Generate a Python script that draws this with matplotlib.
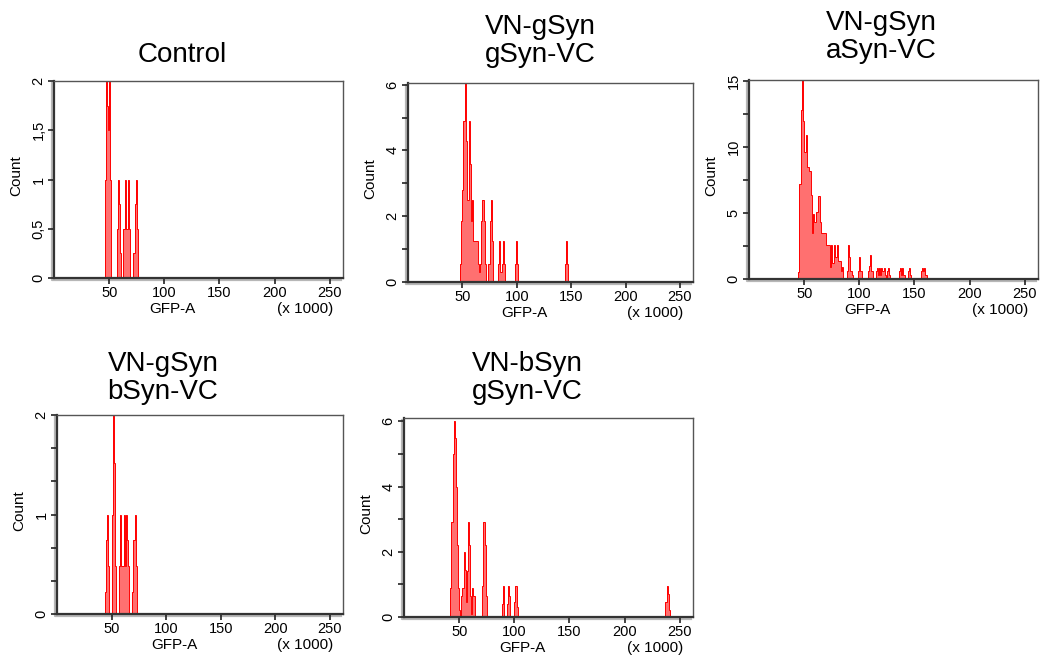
# -*- coding: utf-8 -*-

import numpy as np
import matplotlib
matplotlib.use('Agg')
import matplotlib.pyplot as plt
import matplotlib.transforms as mtransforms

# GFP-A 直方图数据 (x 1000), 每个 bin 宽 1
ctrl_x = [46, 47, 48, 49, 50, 51, 57, 58, 59, 60, 63, 64, 65, 66, 67, 68, 72, 73, 74, 75]
ctrl_n = [1.0, 2.0, 1.75, 1.5, 2.0, 1.0, 0.5, 1.0, 0.75, 0.25, 0.5, 1.0, 0.5, 0.5, 1.0, 0.5,
          0.25, 0.75, 1.0, 0.5]

gg_x = [48, 49, 50, 51, 52, 53, 54, 55, 56, 57, 58, 59, 60, 61, 62, 63, 64, 65, 66, 67, 68,
        69, 70, 71, 74, 75, 76, 77, 83, 84, 85, 86, 87, 88, 98, 99, 100, 144, 145, 146]
gg_n = [0.55, 1.85, 2.8, 4.9, 6.05, 4.3, 2.5, 2.5, 4.9, 3.6, 1.85, 2.5, 1.25, 1.25, 1.25, 1.25,
        0.55, 0.3, 0.55, 1.85, 2.5, 2.5, 1.85, 0.55, 0.55, 1.85, 2.5, 1.25, 0.55, 1.25, 0.3,
        0.55, 1.25, 0.55, 0.55, 1.25, 0.55, 0.55, 1.25, 0.55]

ga_x = [44, 45, 46, 47, 48, 49, 50, 51, 52, 53, 54, 55, 56, 57, 58, 59, 60, 61, 62, 63, 64,
        65, 66, 67, 68, 69, 70, 71, 72, 73, 74, 75, 76, 77, 78, 79, 80, 81, 82, 83, 84,
        89, 90, 91, 92, 93, 99, 100, 101, 108, 109, 110, 111,
        115, 116, 117, 118, 119, 120, 121, 122, 123, 125, 126, 127,
        136, 137, 138, 139, 140, 144, 145, 146, 156, 157, 158, 159, 160]
ga_n = [0.5, 7.2, 7.2, 12.8, 15.1, 12.0, 9.6, 9.6, 10.9, 8.5, 8.2, 8.2, 6.4, 3.5, 4.9, 4.3,
        4.3, 5.1, 5.1, 6.3, 4.3, 3.5, 3.5, 3.5, 3.5, 3.5, 2.6, 2.6, 2.6, 0.9, 2.6, 1.2, 1.2,
        2.6, 1.7, 1.7, 2.6, 1.4, 1.4, 0.6, 0.9,
        0.6, 2.6, 1.7, 0.6, 0.3, 0.6, 1.7, 0.6, 0.6, 1.0, 1.8, 0.6,
        0.6, 0.8, 0.3, 0.8, 0.3, 0.8, 0.6, 0.8, 0.3, 0.6, 0.8, 0.3,
        0.6, 0.8, 0.3, 0.8, 0.3, 0.6, 0.8, 0.3, 0.6, 0.8, 0.6, 0.8, 0.3]

gb_x = [44, 45, 46, 47, 50, 51, 52, 53, 57, 58, 59, 60, 61, 62, 63, 64, 65, 69, 70, 71, 72]
gb_n = [0.22, 0.74, 1.0, 0.48, 1.0, 2.0, 1.52, 0.48, 0.48, 1.0, 0.48, 0.48, 1.0, 0.48, 1.0,
        0.74, 0.48, 0.22, 0.74, 1.0, 0.48]

bg_x = [42, 43, 44, 45, 46, 47, 48, 49, 50, 52, 53, 54, 55, 56, 57, 58, 59, 60, 61, 62, 63,
        71, 72, 73, 74, 89, 90, 93, 94, 95, 100, 101, 102, 237, 238, 239, 240]
bg_n = [0.9, 2.9, 5.0, 6.0, 5.5, 4.0, 2.2, 0.9, 0.2, 0.65, 0.9, 2.0, 1.45, 0.45, 1.4, 2.9,
        2.2, 0.65, 0.1, 0.9, 0.65, 0.95, 2.9, 2.2, 0.65, 0.4, 0.95, 0.4, 0.95, 0.65, 0.45,
        0.95, 0.3, 0.45, 0.95, 0.7, 0.2]

x_ticks = [50, 100, 150, 200, 250]


def to_hist(xs, ns, n_bins=262):
    """
    把 (bin, count) 列表转成完整直方图
    """
    counts = np.zeros(n_bins)
    for x, n in zip(xs, ns):
        counts[x] = n
    return counts


def draw_panel(fig, rect, xs, ns, ymax, major, minor, labels):
    """
    画一个 FACS 风格的直方图
    :param rect: 轴位置 [left, bottom, width, height]
    :param major: 主刻度
    :param minor: 次刻度
    :param labels: 主刻度标签
    """
    ax = fig.add_axes(rect)
    counts = to_hist(xs, ns)
    edges = np.arange(len(counts) + 1)
    ax.stairs(counts, edges, fill=True, color='#ff7070', linewidth=0)
    ax.stairs(counts, edges, color='#ff0000', linewidth=0.7)

    ax.set_xlim(0, 262)
    ax.set_ylim(0, ymax)
    ax.set_xticks(x_ticks)
    ax.set_xticklabels([str(t) for t in x_ticks])
    ax.set_yticks(major)
    ax.set_yticklabels(labels, rotation=90, va='center')
    ax.set_yticks(minor, minor=True)
    ax.tick_params(axis='both', which='major', labelsize=10.5, length=4, width=1.2,
                   color='#222222', pad=2)
    ax.tick_params(axis='y', which='minor', length=4, width=1.2, color='#222222')

    for side in ['top', 'right']:
        ax.spines[side].set_linewidth(1.0)
        ax.spines[side].set_color('#555555')
    for side in ['bottom', 'left']:
        ax.spines[side].set_linewidth(1.6)
        ax.spines[side].set_color('#333333')

    # 阴影 (左边和下边)
    shift = mtransforms.offset_copy(ax.transAxes, fig=fig, x=-1.5, y=-1.5, units='points')
    ax.plot([0, 0, 1], [1, 0, 0], color='#999999', lw=1.6, alpha=0.7,
            transform=shift, clip_on=False, zorder=0)

    # 坐标轴文字
    ax.annotate('GFP-A', xy=(0.41, 0), xycoords='axes fraction', xytext=(0, -22),
                textcoords='offset points', ha='center', va='center', fontsize=11)
    ax.annotate('(x 1000)', xy=(0.965, 0), xycoords='axes fraction', xytext=(0, -22),
                textcoords='offset points', ha='right', va='center', fontsize=11)
    ax.annotate('Count', xy=(0, 0.52), xycoords='axes fraction', xytext=(-27, 0),
                textcoords='offset points', ha='center', va='center', fontsize=11,
                rotation=90)
    return ax


if __name__ == '__main__':
    plt.rcParams['font.family'] = ['Liberation Sans', 'DejaVu Sans']
    plt.rcParams['figure.dpi'] = 100

    W, H = 1040, 667
    fig = plt.figure(figsize=(W / 100, H / 100))

    def px(left, top, right, bottom):
        return [left / W, 1 - bottom / H, (right - left) / W, (bottom - top) / H]

    draw_panel(fig, px(54, 81, 343, 278), ctrl_x, ctrl_n, 2.0,
               [0, 0.5, 1, 1.5, 2], [], ['0', '0,5', '1', '1,5', '2'])
    draw_panel(fig, px(408, 83, 693, 282), gg_x, gg_n, 6.05,
               [0, 2, 4, 6], [1, 3, 5], ['0', '2', '4', '6'])
    draw_panel(fig, px(749, 80, 1038, 279), ga_x, ga_n, 15.1,
               [0, 5, 10, 15], [2.5, 7.5, 12.5], ['0', '5', '10', '15'])
    draw_panel(fig, px(57, 415, 343, 614), gb_x, gb_n, 2.0,
               [0, 1, 2], [1 / 3, 2 / 3, 4 / 3, 5 / 3], ['0', '1', '2'])
    draw_panel(fig, px(404, 418, 693, 617), bg_x, bg_n, 6.1,
               [0, 2, 4, 6], [1, 3, 5], ['0', '2', '4', '6'])

    # 标题
    titles = [('Control', 182, 55),
              ('VN-gSyn\ngSyn-VC', 540, 41),
              ('VN-gSyn\naSyn-VC', 881, 37),
              ('VN-gSyn\nbSyn-VC', 163, 378),
              ('VN-bSyn\ngSyn-VC', 527, 378)]
    for text, x, y in titles:
        fig.text(x / W, 1 - y / H, text, ha='center', va='center', fontsize=20,
                 linespacing=1.1)

    plt.savefig('out.png', dpi=100)
